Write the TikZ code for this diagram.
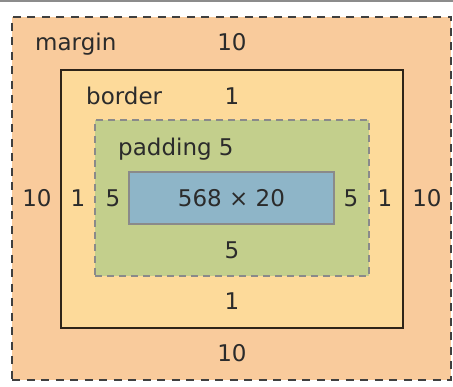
\documentclass[tikz,border=0pt]{standalone}
\usepackage{fontspec}
\setmainfont{DejaVu Sans}
\definecolor{marginc}{HTML}{F9CB9C}
\definecolor{borderc}{HTML}{FDDA9A}
\definecolor{paddingc}{HTML}{C3CF8C}
\definecolor{contentc}{HTML}{8EB5C8}
\definecolor{dashc}{HTML}{3F3F3F}
\definecolor{padline}{HTML}{8A8A8A}
\definecolor{brdline}{HTML}{2E2418}
\definecolor{txtc}{HTML}{2B2B2B}
\definecolor{topc}{HTML}{8C8C8C}
\begin{document}
\begin{tikzpicture}[x=1pt,y=-1pt,
  box/.style={rectangle, inner sep=0pt, outer sep=0pt},
  marginbox/.style={box, fill=marginc, draw=dashc, line width=2pt, dash pattern=on 8pt off 6.5pt},
  borderbox/.style={box, fill=borderc, draw=brdline, line width=2pt},
  paddingbox/.style={box, fill=paddingc, draw=padline, line width=1.6pt, dash pattern=on 7pt off 5pt},
  contentbox/.style={box, fill=contentc, draw=padline, line width=1.2pt},
  lbl/.style={inner sep=0pt, text=txtc, font=\fontsize{23}{27}\selectfont, anchor=base},
  wlbl/.style={lbl, anchor=base west}]
\useasboundingbox (0,0) rectangle (453,387);
\fill[white] (0,0) rectangle (453,387);
\draw[topc, line width=2pt] (0,1.5) -- (453,1.5);
\node[marginbox, minimum width=439pt, minimum height=363pt] (margin) at (231.5,198.5) {};
\node[borderbox, minimum width=342pt, minimum height=258pt] (border) at (232,199) {};
\node[paddingbox, minimum width=274pt, minimum height=156pt] (padding) at (232,198) {};
\node[contentbox, minimum width=205pt, minimum height=52pt] (content) at (231.5,198) {};
% labels
\node[wlbl] (tmargin) at (35,51) {margin};
\node[lbl] (mtop) at (232,51) {10};
\node[wlbl] (tborder) at (86,105) {border};
\node[lbl] (btop) at (232,105) {1};
\node[wlbl] (tpadding) at (118,156) {padding 5};
\node[lbl] (mleft) at (37,207) {10};
\node[lbl] (bleft) at (78,207) {1};
\node[lbl] (pleft) at (113,207) {5};
\node[lbl] (csize) at (231.5,207) {568 × 20};
\node[lbl] (pright) at (351,207) {5};
\node[lbl] (bright) at (385,207) {1};
\node[lbl] (mright) at (427,207) {10};
\node[lbl] (pbot) at (232,259) {5};
\node[lbl] (bbot) at (232,310) {1};
\node[lbl] (mbot) at (232,362) {10};
\end{tikzpicture}
\end{document}
